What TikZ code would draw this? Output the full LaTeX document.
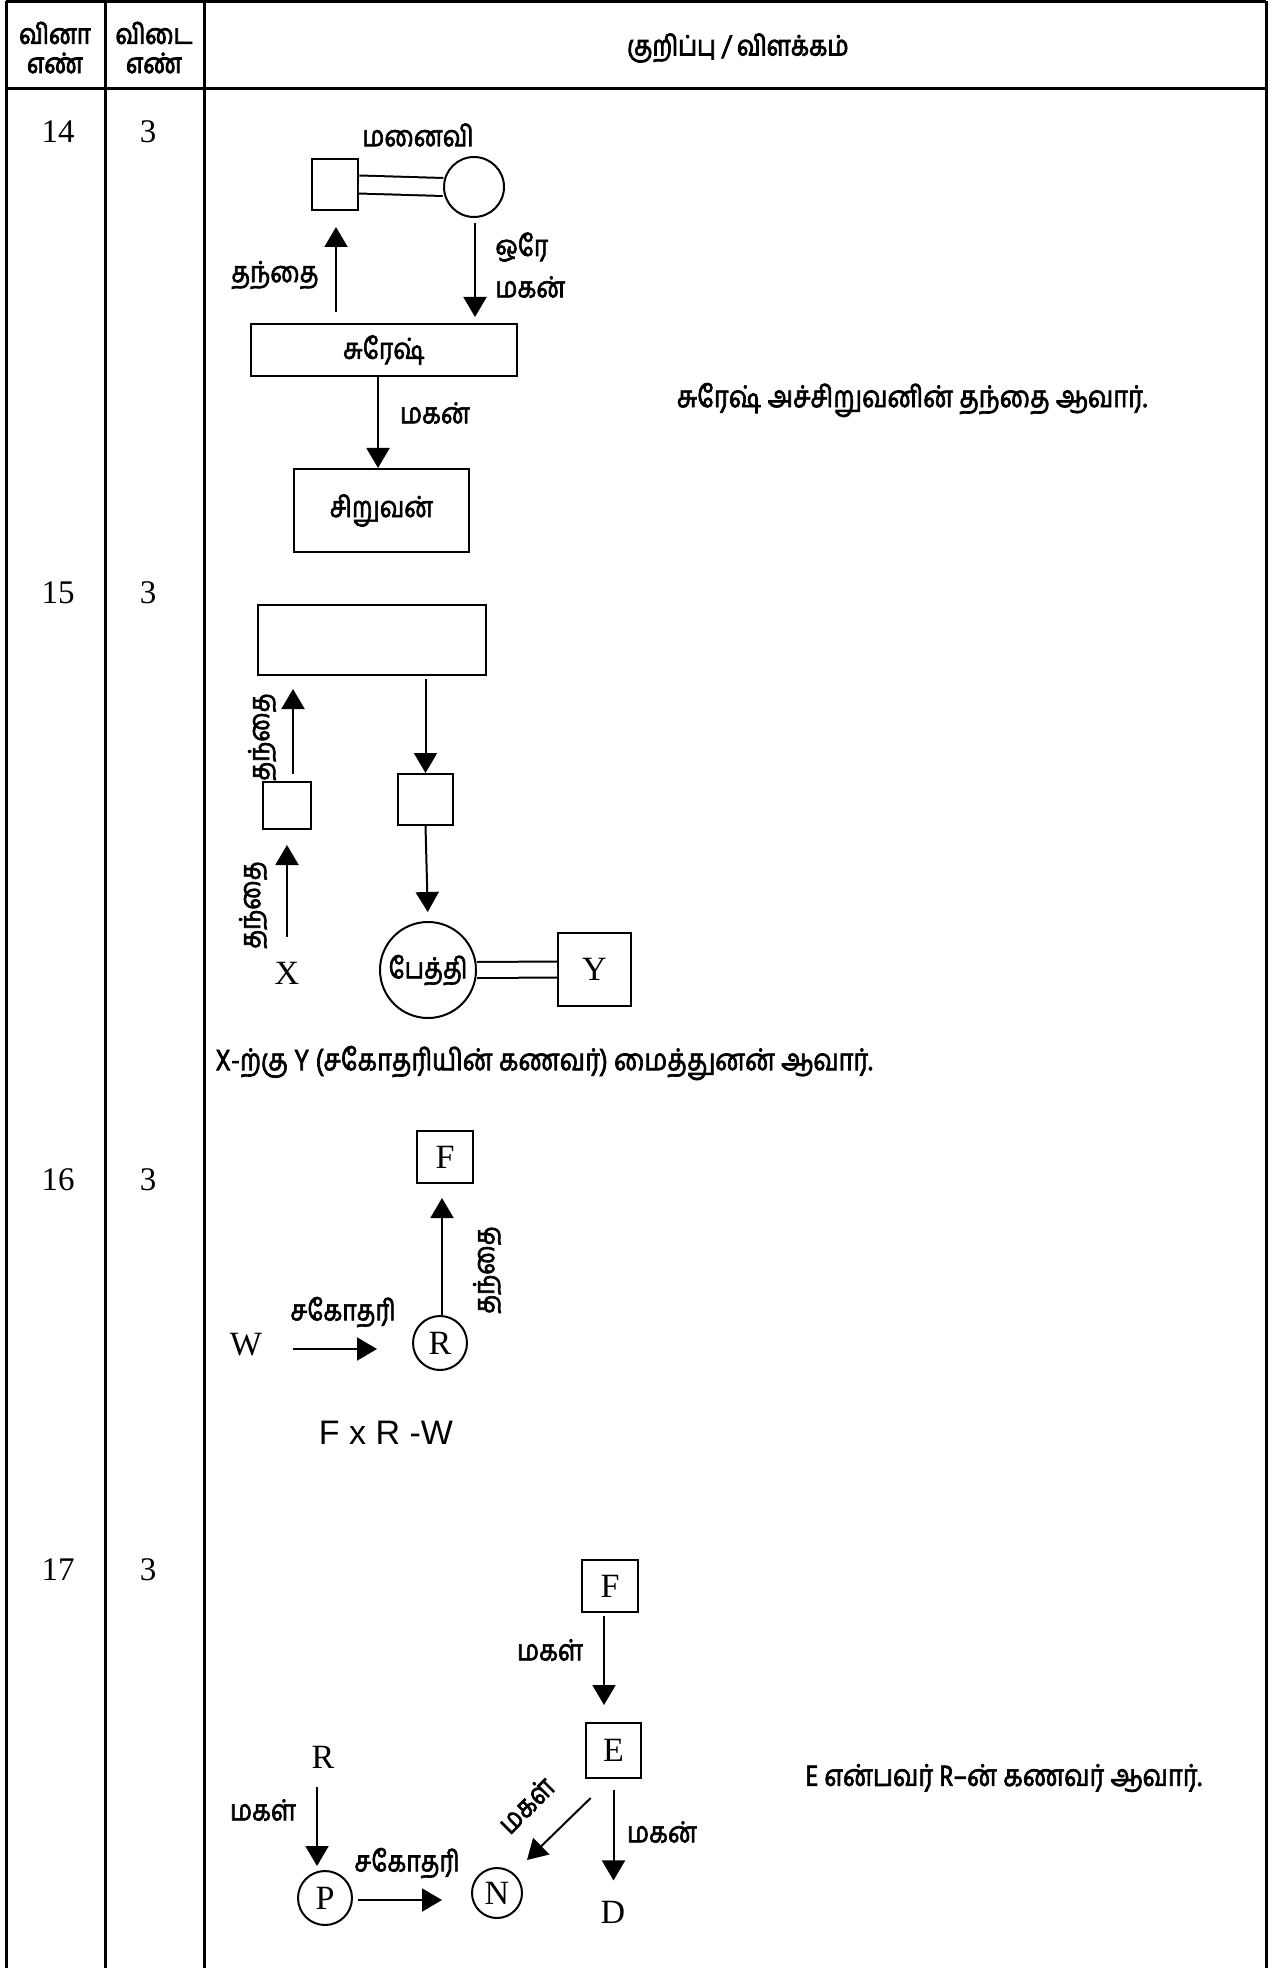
\documentclass[tikz,border=0pt]{standalone}
\usepackage{fontspec}
\setmainfont{Liberation Serif}
\newfontfamily\ta[Script=Tamil,FakeStretch=0.85,FakeBold=2.2]{Hind Madurai}
\newfontfamily\tah[Script=Tamil,FakeStretch=0.85,FakeBold=3]{Hind Madurai}
\newfontfamily\sa{Liberation Sans}
\usetikzlibrary{arrows.meta,calc}
\tikzset{
 rule/.style={line width=1.5pt},
 arr/.style={line width=1pt,-{Triangle[length=10pt,width=11.5pt]}},
 box/.style={draw,line width=1pt,inner sep=0pt},
 circ/.style={draw,circle,line width=1pt,inner sep=0pt},
 lbl/.style={font=\ta\fontsize{14.5}{17}\selectfont,inner sep=0pt},
 ltr/.style={font=\fontsize{17}{20}\selectfont,inner sep=0pt},
 num/.style={font=\fontsize{16.5}{20}\selectfont,inner sep=0pt},
 hdr/.style={font=\tah\fontsize{14}{16}\selectfont,inner sep=0pt},
 sent/.style={font=\ta\fontsize{15}{18}\selectfont,inner sep=0pt},
 dbl/.style={double,double distance=8pt,line width=1pt},
}
\begin{document}
\begin{tikzpicture}[x=0.5pt,y=-0.5pt]
\useasboundingbox (0,0) rectangle (1282,1968);
% table
\draw[rule] (6,2) -- (1266,2);
\draw[rule] (6,89) -- (1268,89);
\draw[rule] (6,1) -- (6,1968);
\draw[rule] (105,1) -- (105,1968);
\draw[rule] (204,1) -- (204,1968);
\draw[rule] (1266,1) -- (1266,1968);
\node[hdr] (h1a) at (55,33) {வினா};
\node[hdr] (h1b) at (55,63) {எண்};
\node[hdr] (h2a) at (154,33) {விடை};
\node[hdr] (h2b) at (154,63) {எண்};
\node[hdr] (h3) at (738,48) {குறிப்பு / விளக்கம்};
% row numbers
\node[num] (q14) at (58,132) {14};
\node[num] (a14) at (148,132) {3};
\node[num] (q15) at (58,593) {15};
\node[num] (a15) at (148,593) {3};
\node[num] (q16) at (58,1180) {16};
\node[num] (a16) at (148,1180) {3};
\node[num] (q17) at (58,1570) {17};
\node[num] (a17) at (148,1570) {3};
% ---- 14
\node[box,minimum width=23pt,minimum height=25.5pt] (sq14) at (335,184.5) {};
\node[circ,minimum size=30pt] (ci14) at (474,187) {};
\draw[dbl] (sq14.east) -- (ci14.west);
\node[box,minimum width=133pt,minimum height=26pt] (sur) at (384,350) {};
\node[lbl] at (sur.center) {சுரேஷ்};
\node[box,minimum width=87.5pt,minimum height=41.5pt] (boy) at (381.5,510.5) {};
\node[lbl] at (boy.center) {சிறுவன்};
\node[lbl] (l14a) at (418,135) {மனைவி};
\node[lbl] (l14b) at (275,275) {தந்தை};
\node[lbl,anchor=west] (l14c) at (495,247) {ஒரே};
\node[lbl,anchor=west] (l14d) at (495,287) {மகன்};
\node[lbl] (l14e) at (435,413) {மகன்};
\draw[arr,shorten <=5.5pt,shorten >=8pt] ([xshift=0.5pt]sq14.south |- sur.north) -- ([xshift=0.5pt]sq14.south);
\draw[arr,shorten <=2.5pt,shorten >=3pt] ([xshift=0.5pt]ci14.south) -- ([xshift=0.5pt]ci14.south |- sur.north);
\draw[arr] ([xshift=-1.75pt]boy.north |- sur.south) -- ([xshift=-1.75pt]boy.north);
\node[sent] (s14) at (912,400) {சுரேஷ் அச்சிறுவனின் தந்தை ஆவார்.};
% ---- 15
\node[box,minimum width=114pt,minimum height=35pt] (big15) at (372,640) {};
\node[box,minimum width=24pt,minimum height=23.5pt] (b15a) at (287,805.5) {};
\node[box,minimum width=27.5pt,minimum height=25.5pt] (b15b) at (425.5,799.5) {};
\node[circ,minimum size=48pt] (pe) at (428,970) {};
\node[lbl] at (pe.center) {பேத்தி};
\node[box,minimum width=36.5pt,minimum height=36.5pt,font=\fontsize{17}{20}\selectfont] (y15) at (594.5,969.5) {Y};
\node[ltr] (x15) at (287,973) {X};
\draw[dbl,double distance=7pt] (pe.east) -- (y15.west);
\draw[arr,shorten <=1.5pt] (b15b.north |- big15.south) -- (b15b.north);
\draw[arr,shorten >=4.5pt] (b15b.south) -- (pe.north);
\draw[arr,shorten <=3.5pt,shorten >=6.5pt] ([xshift=3pt]b15a.north) -- ([xshift=3pt]b15a.north |- big15.south);
\draw[arr,shorten <=12pt,shorten >=7.5pt] (x15.north) -- (x15.north |- b15a.south);
\node[lbl,rotate=90] (l15a) at (262,737) {தந்தை};
\node[lbl,rotate=90] (l15b) at (253,905) {தந்தை};
\node[sent,anchor=west] (s15) at (215,1063) {X-ற்கு Y (சகோதரியின் கணவர்) மைத்துனன் ஆவார்.};
% ---- 16
\node[box,minimum width=28pt,minimum height=26pt,font=\fontsize{17}{20}\selectfont] (f16) at (445,1157) {F};
\node[circ,minimum size=27pt,font=\fontsize{17}{20}\selectfont] (r16) at (440,1343) {R};
\node[ltr] (w16) at (246,1345) {W};
\draw[arr,shorten >=7pt] ([xshift=1pt]r16.north) -- ([xshift=1pt]r16.north |- f16.south);
\draw[arr,shorten <=15.5pt,shorten >=17.5pt] ([yshift=-2pt]w16.east) -- ([yshift=-2pt]w16.east -| r16.west);
\node[lbl,rotate=90] (l16a) at (487,1270) {தந்தை};
\node[lbl] (l16b) at (343,1312) {சகோதரி};
\node[font=\sa\fontsize{17}{20}\selectfont,inner sep=0pt] (fx) at (386,1433) {F x R -W};
% ---- 17
\node[box,minimum width=28pt,minimum height=26pt,font=\fontsize{17}{20}\selectfont] (f17) at (610,1586) {F};
\node[box,minimum width=27.5pt,minimum height=27.5pt,font=\fontsize{17}{20}\selectfont] (e17) at (613.5,1750.5) {E};
\node[ltr] (d17) at (613,1912) {D};
\node[circ,minimum size=25pt,font=\fontsize{17}{20}\selectfont] (n17) at (497,1893) {N};
\node[ltr] (r17) at (323,1757) {R};
\node[circ,minimum size=27pt,font=\fontsize{17}{20}\selectfont] (p17) at (325,1898) {P};
\draw[arr,shorten <=1.5pt,shorten >=8.5pt] ([xshift=-3pt]f17.south) -- ([xshift=-3pt]f17.south |- e17.north);
\draw[arr,shorten <=5.5pt,shorten >=10pt] (e17.south) -- (e17.south |- d17.north);
\coordinate (en1) at ($(e17.south west)!0.2!(e17.south)+(0,19)$);
\coordinate (en2) at ($(n17.center)+(30,-33)$);
\draw[arr] (en1) -- (en2);
\draw[arr,shorten <=9pt,shorten >=2pt] ([xshift=-3pt]r17.south) -- ([xshift=-3pt]r17.south |- p17.north);
\draw[arr,shorten <=2.5pt,shorten >=14.5pt] ([yshift=-1pt]p17.east) -- ([yshift=-1pt]p17.east -| n17.west);
\node[lbl] (l17a) at (550,1650) {மகள்};
\node[lbl] (l17b) at (662,1832) {மகன்};
\node[lbl,rotate=45] (l17c) at (526,1805) {மகள்};
\node[lbl] (l17d) at (263,1810) {மகள்};
\node[lbl] (l17e) at (407,1863) {சகோதரி};
\node[sent,anchor=west] (s17) at (805,1778) {E என்பவர் R–ன் கணவர் ஆவார்.};
\end{tikzpicture}
\end{document}
